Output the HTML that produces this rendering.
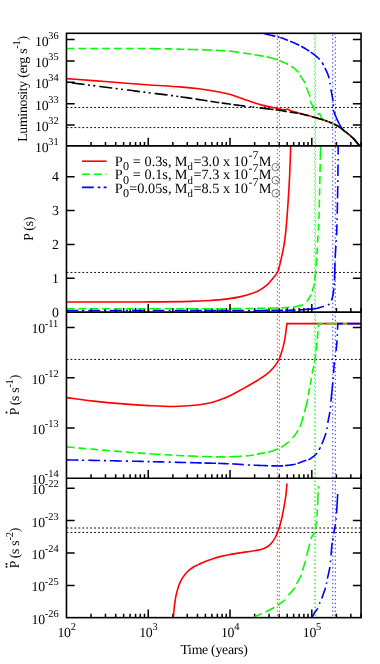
<!DOCTYPE html>
<html><head><meta charset="utf-8"><title>plot</title>
<style>html,body{margin:0;padding:0;background:#fff}svg{display:block;will-change:transform}</style></head>
<body>
<svg width="380" height="664" viewBox="0 0 380 664" font-family="'Liberation Serif', serif" fill="#000" text-rendering="geometricPrecision">
<rect width="380" height="664" fill="#fff"/>
<defs>
<clipPath id="c1"><rect x="66.45" y="33.3" width="294.6" height="112.6"/></clipPath>
<clipPath id="c2"><rect x="66.45" y="145.9" width="294.6" height="166.2"/></clipPath>
<clipPath id="c3"><rect x="66.45" y="312.1" width="294.6" height="166.1"/></clipPath>
<clipPath id="c4"><rect x="66.45" y="478.2" width="294.6" height="139.45"/></clipPath>
</defs>
<path d="M91.07 145.9L91.07 141.9M105.47 145.9L105.47 141.9M115.69 145.9L115.69 141.9M123.62 145.9L123.62 141.9M130.09 145.9L130.09 141.9M135.57 145.9L135.57 141.9M140.31 145.9L140.31 141.9M144.49 145.9L144.49 141.9M172.86 145.9L172.86 141.9M187.26 145.9L187.26 141.9M197.48 145.9L197.48 141.9M205.4 145.9L205.4 141.9M211.88 145.9L211.88 141.9M217.35 145.9L217.35 141.9M222.1 145.9L222.1 141.9M226.28 145.9L226.28 141.9M254.64 145.9L254.64 141.9M269.05 145.9L269.05 141.9M279.26 145.9L279.26 141.9M287.19 145.9L287.19 141.9M293.67 145.9L293.67 141.9M299.14 145.9L299.14 141.9M303.88 145.9L303.88 141.9M308.07 145.9L308.07 141.9M336.43 145.9L336.43 141.9M350.83 145.9L350.83 141.9M361.05 145.9L361.05 141.9M91.07 312.1L91.07 308.1M105.47 312.1L105.47 308.1M115.69 312.1L115.69 308.1M123.62 312.1L123.62 308.1M130.09 312.1L130.09 308.1M135.57 312.1L135.57 308.1M140.31 312.1L140.31 308.1M144.49 312.1L144.49 308.1M172.86 312.1L172.86 308.1M187.26 312.1L187.26 308.1M197.48 312.1L197.48 308.1M205.4 312.1L205.4 308.1M211.88 312.1L211.88 308.1M217.35 312.1L217.35 308.1M222.1 312.1L222.1 308.1M226.28 312.1L226.28 308.1M254.64 312.1L254.64 308.1M269.05 312.1L269.05 308.1M279.26 312.1L279.26 308.1M287.19 312.1L287.19 308.1M293.67 312.1L293.67 308.1M299.14 312.1L299.14 308.1M303.88 312.1L303.88 308.1M308.07 312.1L308.07 308.1M336.43 312.1L336.43 308.1M350.83 312.1L350.83 308.1M361.05 312.1L361.05 308.1M91.07 478.2L91.07 474.2M105.47 478.2L105.47 474.2M115.69 478.2L115.69 474.2M123.62 478.2L123.62 474.2M130.09 478.2L130.09 474.2M135.57 478.2L135.57 474.2M140.31 478.2L140.31 474.2M144.49 478.2L144.49 474.2M172.86 478.2L172.86 474.2M187.26 478.2L187.26 474.2M197.48 478.2L197.48 474.2M205.4 478.2L205.4 474.2M211.88 478.2L211.88 474.2M217.35 478.2L217.35 474.2M222.1 478.2L222.1 474.2M226.28 478.2L226.28 474.2M254.64 478.2L254.64 474.2M269.05 478.2L269.05 474.2M279.26 478.2L279.26 474.2M287.19 478.2L287.19 474.2M293.67 478.2L293.67 474.2M299.14 478.2L299.14 474.2M303.88 478.2L303.88 474.2M308.07 478.2L308.07 474.2M336.43 478.2L336.43 474.2M350.83 478.2L350.83 474.2M361.05 478.2L361.05 474.2M91.07 617.65L91.07 613.65M105.47 617.65L105.47 613.65M115.69 617.65L115.69 613.65M123.62 617.65L123.62 613.65M130.09 617.65L130.09 613.65M135.57 617.65L135.57 613.65M140.31 617.65L140.31 613.65M144.49 617.65L144.49 613.65M172.86 617.65L172.86 613.65M187.26 617.65L187.26 613.65M197.48 617.65L197.48 613.65M205.4 617.65L205.4 613.65M211.88 617.65L211.88 613.65M217.35 617.65L217.35 613.65M222.1 617.65L222.1 613.65M226.28 617.65L226.28 613.65M254.64 617.65L254.64 613.65M269.05 617.65L269.05 613.65M279.26 617.65L279.26 613.65M287.19 617.65L287.19 613.65M293.67 617.65L293.67 613.65M299.14 617.65L299.14 613.65M303.88 617.65L303.88 613.65M308.07 617.65L308.07 613.65M336.43 617.65L336.43 613.65M350.83 617.65L350.83 613.65M361.05 617.65L361.05 613.65M66.45 39.55L74.65 39.55M361.05 39.55L352.85 39.55M66.45 60.91L74.65 60.91M361.05 60.91L352.85 60.91M66.45 82.27L74.65 82.27M361.05 82.27L352.85 82.27M66.45 103.63L74.65 103.63M361.05 103.63L352.85 103.63M66.45 124.99L74.65 124.99M361.05 124.99L352.85 124.99M66.45 278.28L74.65 278.28M361.05 278.28L352.85 278.28M66.45 244.41L74.65 244.41M361.05 244.41L352.85 244.41M66.45 210.54L74.65 210.54M361.05 210.54L352.85 210.54M66.45 176.67L74.65 176.67M361.05 176.67L352.85 176.67M66.45 327.45L74.65 327.45M361.05 327.45L352.85 327.45M66.45 377.72L74.65 377.72M361.05 377.72L352.85 377.72M66.45 428L74.65 428M361.05 428L352.85 428M66.45 488.15L74.65 488.15M361.05 488.15L352.85 488.15M66.45 520.58L74.65 520.58M361.05 520.58L352.85 520.58M66.45 553.01L74.65 553.01M361.05 553.01L352.85 553.01M66.45 585.44L74.65 585.44M361.05 585.44L352.85 585.44" stroke="#000" stroke-width="1.5" fill="none"/>
<line x1="66.45" x2="361.05" y1="107.45" y2="107.45" stroke="#000" stroke-width="0.95" stroke-dasharray="1.9 2.05" stroke-dashoffset="-0.05"/>
<line x1="66.45" x2="361.05" y1="127.6" y2="127.6" stroke="#000" stroke-width="0.95" stroke-dasharray="1.9 2.05" stroke-dashoffset="-0.05"/>
<line x1="66.45" x2="361.05" y1="272.45" y2="272.45" stroke="#000" stroke-width="0.95" stroke-dasharray="1.9 2.05" stroke-dashoffset="-0.05"/>
<line x1="66.45" x2="361.05" y1="359.45" y2="359.45" stroke="#000" stroke-width="0.95" stroke-dasharray="1.9 2.05" stroke-dashoffset="-0.05"/>
<line x1="66.45" x2="361.05" y1="528" y2="528" stroke="#000" stroke-width="0.95" stroke-dasharray="1.9 2.05" stroke-dashoffset="-0.05"/>
<line x1="66.45" x2="361.05" y1="532.45" y2="532.45" stroke="#000" stroke-width="0.95" stroke-dasharray="1.9 2.05" stroke-dashoffset="-0.05"/>
<line x1="277.35" x2="277.35" y1="33.3" y2="617.65" stroke="#ff0000" stroke-width="0.8" stroke-dasharray="1.4 2.545" stroke-dashoffset="2.705"/>
<line x1="279.4" x2="279.4" y1="33.3" y2="617.65" stroke="#ff0000" stroke-width="0.8" stroke-dasharray="1.4 2.53" stroke-dashoffset="0.37"/>
<line x1="314.3" x2="314.3" y1="33.3" y2="617.65" stroke="#00ff00" stroke-width="0.8" stroke-dasharray="1.4 2.545" stroke-dashoffset="2.705"/>
<line x1="315.55" x2="315.55" y1="33.3" y2="617.65" stroke="#00ff00" stroke-width="0.8" stroke-dasharray="1.4 2.53" stroke-dashoffset="0.37"/>
<line x1="332.8" x2="332.8" y1="33.3" y2="617.65" stroke="#0000ff" stroke-width="0.8" stroke-dasharray="1.4 2.545" stroke-dashoffset="2.705"/>
<line x1="335.3" x2="335.3" y1="33.3" y2="617.65" stroke="#0000ff" stroke-width="0.8" stroke-dasharray="1.4 2.53" stroke-dashoffset="0.37"/>
<path d="M66.45 78.65 C75.3 79.3 83.88 79.9 93 80.6 C102.7 81.34 113.26 82.25 123 83 C132.24 83.71 140.76 84.37 150 85 C159.73 85.67 171.16 86.18 180 86.9 C187.03 87.48 192.6 88 198.9 88.8 C205.24 89.6 212.23 90.64 217.9 91.7 C222.55 92.57 226.33 93.32 230.5 94.5 C234.76 95.71 238.98 97.43 243.2 98.9 C247.41 100.36 252.17 102.14 255.8 103.3 C258.52 104.17 260.6 104.81 263 105.4 C265.34 105.97 267.6 106.29 270 106.8 C272.56 107.35 275.48 108.07 277.9 108.6 C279.95 109.05 282.14 109.68 283.6 109.8 C284.5 109.87 285.13 109.84 285.8 109.7 C286.39 109.58 286.89 109.09 287.4 109.1 C287.88 109.11 288.32 109.46 288.8 109.7 C289.35 109.97 289.78 110.34 290.5 110.65 C291.62 111.13 293.46 111.55 295 112 C296.62 112.47 297.93 112.82 300 113.4 C303.39 114.34 309.15 115.9 313.4 117.1 C317.28 118.19 321.14 119.16 324.5 120.3 C327.38 121.28 329.94 122.3 332.4 123.4 C334.64 124.41 336.72 125.36 338.7 126.6 C340.66 127.83 342.51 129.5 344.2 130.8 C345.64 131.91 346.74 132.67 348.2 133.9 C350.09 135.5 352.67 137.77 354.5 139.7 C356.11 141.4 357.57 143.46 358.7 144.8 C359.45 145.69 359.97 146.27 360.6 147" fill="none" stroke="#ff0000" stroke-width="1.6" clip-path="url(#c1)"/>
<path d="M66.45 48.5 L70.81 48.5 L74.5 48.5 M78.4 48.5 L79.57 48.5 L83.96 48.49 L86.3 48.49 M90.3 48.49 L92.71 48.49 L97.07 48.49 L98.2 48.49 M102.1 48.49 L105.72 48.5 L110 48.5 M113.9 48.5 L114.09 48.5 L118.18 48.5 L121.8 48.5 M125.7 48.5 L126.35 48.5 L130.4 48.51 L133.6 48.51 M137.6 48.52 L138.4 48.52 L142.33 48.54 L145.5 48.56 M149.3 48.59 L150 48.6 L153.31 48.64 L156.56 48.68 L159.75 48.73 L160.7 48.75 M164.7 48.82 L166.03 48.84 L169.14 48.91 L172.24 48.98 L172.3 48.98 M176.3 49.07 L178.46 49.12 L181.6 49.2 L184.2 49.27 M187.7 49.36 L188.05 49.36 L191.34 49.45 L194.63 49.54 L197.91 49.64 L198.2 49.65 M202.05 49.77 L204.32 49.84 L207.4 49.95 L210.37 50.07 L212.3 50.16 M216 50.33 L217.37 50.4 L219.39 50.5 L221.35 50.61 L223.27 50.71 L225.14 50.83 L225.4 50.85 M228.9 51.11 L230.44 51.24 L232.1 51.4 L233.34 51.54 L234.54 51.69 L235.71 51.84 L236.85 52.01 L237.96 52.18 L239.04 52.35 L239.3 52.39 M243.2 53 L244.04 53.12 L244.84 53.24 L245.61 53.36 L246.37 53.47 L247.12 53.58 L247.88 53.7 L248.64 53.81 L249.43 53.94 L250.24 54.06 L251.1 54.2 M254.4 54.73 L254.75 54.79 L256.06 55 L257.39 55.22 L258.71 55.44 L260.01 55.66 L261.28 55.88 L262.48 56.09 L263.6 56.3 M266.5 56.85 L266.63 56.87 L267.34 57.01 L268.03 57.15 L268.72 57.3 L269.4 57.46 L270.1 57.62 L270.8 57.8 L271.51 57.99 L272.23 58.19 L272.94 58.4 L273.65 58.62 L274.37 58.84 L275.07 59.07 L275.77 59.3 L276.46 59.53 L277.14 59.77 L277.8 60 M280.1 60.85 L280.12 60.85 L280.68 61.07 L281.24 61.29 L281.78 61.51 L282.33 61.74 L282.87 61.97 L283.4 62.2 L283.89 62.42 L284.39 62.65 L284.88 62.88 L285.36 63.11 L285.84 63.35 L286.31 63.58 L286.78 63.81 L287.23 64.05 L287.67 64.28 L288.1 64.5 M291.3 66.3 L291.67 66.54 L292.04 66.78 L292.41 67.03 L292.79 67.29 L293.16 67.56 L293.54 67.83 L293.91 68.11 L294.28 68.4 L294.64 68.7 L295 69 L295.38 69.33 L295.76 69.67 L296.15 70.03 L296.53 70.39 L296.91 70.76 L297.28 71.13 L297.63 71.5 L297.96 71.87 L298.27 72.24 L298.55 72.6 M300.1 75.4 L300.33 75.77 L300.57 76.16 L300.82 76.56 L301.08 76.96 L301.35 77.36 L301.62 77.77 L301.89 78.18 L302.17 78.59 L302.44 79 L302.7 79.4 L302.97 79.79 L303.24 80.18 L303.52 80.57 L303.81 80.95 L304.09 81.33 L304.36 81.72 L304.63 82.11 L304.87 82.5 L305.1 82.9 L305.3 83.3 M306.4 87.2 L306.56 87.66 L306.72 88.13 L306.9 88.61 L307.08 89.09 L307.26 89.58 L307.45 90.06 L307.64 90.55 L307.83 91.04 L308.02 91.52 L308.2 92 L308.39 92.47 L308.58 92.95 L308.79 93.42 L308.99 93.9 L309.2 94.37 L309.39 94.84 L309.57 95.31 L309.74 95.78 L309.88 96.24 L310 96.7 M310.3 100.7 L310.44 101.17 L310.62 101.64 L310.82 102.12 L311.04 102.6 L311.28 103.08 L311.53 103.56 L311.79 104.04 L312.04 104.53 L312.28 105.01 L312.5 105.5 L312.72 106 L312.94 106.51 L313.16 107.03 L313.38 107.56 L313.6 108.08 L313.82 108.6 L314.03 109.1 L314.23 109.59 L314.42 110.06 L314.6 110.5 M317.24 114.33 L317.36 114.32 L317.48 114.31 L317.6 114.28 L317.72 114.25 L317.84 114.21 L317.96 114.18 L318.08 114.14 L318.2 114.1 L318.31 114.06 L318.43 113.99 L318.54 113.92 L318.66 113.85 L318.77 113.77 L318.88 113.7 L318.99 113.64 L319.1 113.6 L319.2 113.59 L319.3 113.6 L319.43 113.66 L319.55 113.77 L319.66 113.9 L319.77 114.07 L319.88 114.26 L319.99 114.47 L320.09 114.68 L320.19 114.9 L320.3 115.1 L320.4 115.3 L320.52 115.52 L320.63 115.74 L320.74 115.98 L320.84 116.22 L320.95 116.46 L321.06 116.71 L321.17 116.95 L321.27 117.18 L321.39 117.39 L321.5 117.6 L321.6 117.76 L321.69 117.91 L321.79 118.05 L321.89 118.19 L321.99 118.33 L322.1 118.46 L322.2 118.59 L322.3 118.73 L322.4 118.86 L322.5 119" fill="none" stroke="#00ff00" stroke-width="1.6" clip-path="url(#c1)"/>
<path d="M324.5 120.3 C327.13 121.33 329.94 122.3 332.4 123.4 C334.64 124.41 336.72 125.36 338.7 126.6 C340.66 127.83 342.51 129.5 344.2 130.8 C345.64 131.91 346.74 132.67 348.2 133.9 C350.09 135.5 352.67 137.77 354.5 139.7 C356.11 141.4 357.57 143.46 358.7 144.8 C359.45 145.69 359.97 146.27 360.6 147" fill="none" stroke="#00ff00" stroke-width="1.6" stroke-dasharray="7.9 3.95" stroke-dashoffset="4" clip-path="url(#c1)"/>
<path d="M264.2 33.57 L264.3 33.6 L265.34 33.87 L266.41 34.14 L267.5 34.4 L268.61 34.67 L269.72 34.92 L270.81 35.17 L271.88 35.41 L272.9 35.65 L273.88 35.88 L274.8 36.1 L275.3 36.22 M277.6 36.76 L277.61 36.76 L278.13 36.89 L278.65 37.02 L279.18 37.17 L279.4 37.23 M280.3 37.5 L281.01 37.73 L281.75 37.99 L282.49 38.26 L283.25 38.55 L284.02 38.85 L284.79 39.16 L285.57 39.47 L286.35 39.78 L287.13 40.09 L287.9 40.4 M290 41.23 L290.37 41.37 L291.21 41.71 L292.05 42.04 L292.88 42.38 L293.7 42.71 L294.49 43.04 L295.26 43.37 L296 43.7 L296.58 43.96 L297.12 44.21 L297.65 44.45 L298.16 44.7 L298.67 44.94 L299.17 45.19 L299.2 45.2 M301.3 46.3 L302.06 46.72 L302.89 47.2 L303.76 47.71 L304.66 48.24 L305.55 48.78 L306.42 49.31 L307.25 49.82 L308 50.29 L308.66 50.7 L309.2 51.05 M310.7 52.1 L311.05 52.35 L311.45 52.63 L311.88 52.93 L312.34 53.26 L312.81 53.6 L313.3 53.95 L313.79 54.31 L314.27 54.67 L314.75 55.04 L315.2 55.4 L315.66 55.78 L316.13 56.17 L316.6 56.57 L317.07 56.97 L317.54 57.38 L318 57.8 L318.44 58.22 L318.88 58.64 L319.3 59.07 L319.7 59.5 M322 62.46 L322.25 62.84 L322.53 63.27 L322.8 63.7 L323.04 64.11 L323.27 64.52 L323.49 64.93 L323.6 65.16 M324.9 67.9 L325.14 68.39 L325.38 68.88 L325.63 69.38 L325.88 69.89 L326.13 70.4 L326.37 70.92 L326.61 71.43 L326.85 71.96 L327.08 72.48 L327.3 73 L327.52 73.53 L327.73 74.06 L327.94 74.6 L328.14 75.14 L328.34 75.68 L328.54 76.23 L328.72 76.77 L328.89 77.31 L329.05 77.86 L329.2 78.4 M329.98 82.8 L330.02 83.07 L330.1 83.6 L330.18 84.16 L330.22 84.4 M330.9 89.3 L331 89.87 L331.1 90.44 L331.21 91.01 L331.32 91.57 L331.44 92.14 L331.56 92.71 L331.67 93.28 L331.78 93.85 L331.89 94.42 L332 95 L332.11 95.61 L332.22 96.23 L332.34 96.85 L332.45 97.48 L332.56 98.11 L332.67 98.74 L332.77 99.36 L332.86 99.96 L332.93 100.54 L333 101.1 M333.16 104.3 L333.18 104.69 L333.2 105.1 L333.22 105.56 L333.23 105.9 M333.5 109.9 L333.62 110.42 L333.76 110.94 L333.92 111.46 L334.09 111.98 L334.28 112.5 L334.48 113.02 L334.69 113.54 L334.89 114.06 L335.1 114.58 L335.3 115.1 L335.5 115.63 L335.71 116.17 L335.92 116.7 L336.14 117.24 L336.35 117.77 L336.58 118.31 L336.8 118.84 L337.03 119.36 L337.26 119.88 L337.5 120.4 L337.74 120.9 L337.98 121.4 L338.23 121.9 L338.48 122.4 L338.74 122.9 L339 123.38 L339.25 123.86 L339.51 124.32 L339.76 124.77 L340 125.2 L340.19 125.53 L340.38 125.86 L340.56 126.17 L340.75 126.48 L340.93 126.77 L341.11 127.06 L341.3 127.35 L341.49 127.64 L341.69 127.92 L341.9 128.2 L342.11 128.47 L342.33 128.74 L342.56 129.01 L342.79 129.27 L343.02 129.52 L343.26 129.78 L343.5 130.03 L343.73 130.29 L343.97 130.54 L344.2 130.8" fill="none" stroke="#0000ff" stroke-width="1.6" clip-path="url(#c1)"/>
<path d="M344.2 130.8 C345.53 131.83 346.74 132.67 348.2 133.9 C350.09 135.5 352.67 137.77 354.5 139.7 C356.11 141.4 357.57 143.46 358.7 144.8 C359.45 145.69 359.97 146.27 360.6 147" fill="none" stroke="#0000ff" stroke-width="1.6" stroke-dasharray="10.5 3.7 1.7 3.5" stroke-dashoffset="8" clip-path="url(#c1)"/>
<path d="M66.45 82.2 L69.79 82.63 L73.11 83.05 L76.42 83.48 L79.73 83.9 L83.04 84.33 L86.37 84.75 L89.72 85.18 L93.1 85.62 L96.53 86.06 L100 86.5 L103.86 86.99 L107.77 87.49 L111.74 88 L115.75 88.51 L119.78 89.02 L123.83 89.54 L127.89 90.06 L131.94 90.57 L135.98 91.09 L140 91.6 L144.02 92.11 L148.08 92.62 L152.15 93.12 L156.23 93.63 L160.3 94.13 L164.34 94.64 L168.35 95.15 L172.31 95.66 L176.19 96.18 L179 96.56" fill="none" stroke="#000" stroke-width="1.6" stroke-dasharray="13 3.5 2 3.3 2 4.1" stroke-dashoffset="22.65" clip-path="url(#c1)"/>
<path d="M180.5 96.77 L183.31 97.17 L186.56 97.65 L189.76 98.13 L192.4 98.54 M195.5 99.03 L196.03 99.11 L199.14 99.6 L202.24 100.08 L205.34 100.56 L207.4 100.87 M210.5 101.34 L211.6 101.5 L214.77 101.96 L217.97 102.42 L219.2 102.6 M221.6 102.94 L224.41 103.34 L227.62 103.79 L230.81 104.24 L231.1 104.28 M233.5 104.61 L233.98 104.67 L237.11 105.1 L240.18 105.51 L243.2 105.9 L245.4 106.18 M249.8 106.72 L251.27 106.89 L251.4 106.91 M252.6 107.05 L253.95 107.21 L254.2 107.24 M259.6 107.86 L261.64 108.1 L264.02 108.37 L266.28 108.64 L268.4 108.9 L269.74 109.07 L271.01 109.22 L272.22 109.37 L273.38 109.51 L273.4 109.51 M275.6 109.79 L276.69 109.93 L277.77 110.08 L278.87 110.23 L280 110.4 L281.12 110.57 L282.24 110.76 L283.36 110.95 L284.48 111.15 L285.59 111.35 L286.69 111.55 L286.8 111.57 M289.7 112.09 L289.95 112.13 L291 112.3 L291.93 112.44 L292.83 112.56 L293.71 112.68 L294.58 112.78 L295.45 112.89 L296.32 113 L297.21 113.12 L297.6 113.18 M300 113.6 L301.24 113.87 L302.54 114.17 L303.87 114.5 L305.24 114.85 L306.62 115.22 L308.01 115.6 L308.7 115.79 M311.9 116.68 L312.1 116.74 L313.4 117.1 L314.56 117.42 L315.72 117.73 L316.87 118.05 L318.02 118.36 L319.14 118.67 L320.26 118.99 L321.35 119.31 L322.43 119.63 L323.48 119.96 L323.7 120.04 M324.9 120.44 L325.36 120.59 L326.19 120.89 L327.01 121.19 L327.5 121.38 M328.8 121.88 L329.39 122.11 L330.15 122.43 L330.91 122.75 L331.66 123.07 L332.1 123.27 M334.1 124.17 L334.38 124.3 L335.02 124.6 L335.65 124.91 L336.28 125.23 L336.89 125.55 L337.5 125.89 L338.1 126.24 L338.7 126.6 L339.28 126.98 L339.86 127.38 L340.43 127.8 L341 128.24 L341.55 128.67 L342.1 129.12 L342.64 129.55 L343.17 129.98 L343.69 130.4 L344.2 130.8 L344.6 131.11 M345.9 132.08 L346.19 132.3 L346.58 132.6 L346.97 132.9 L347.36 133.21 L347.77 133.54 L348.2 133.9 L348.6 134.24 M350.5 135.89 L350.71 136.08 L351.37 136.67 L352.04 137.28 L352.69 137.9 L353.32 138.51 L353.93 139.11 L354.5 139.7 L354.98 140.22 L355.45 140.75 L355.9 141.3 L356.35 141.84 L356.78 142.38 L357.2 142.91 L357.6 143.43 L357.98 143.92 L358.35 144.38 L358.7 144.8 L358.92 145.06 L359.13 145.3 L359.32 145.53 L359.51 145.75 L359.69 145.96 L359.87 146.17 L360.05 146.37 L360.23 146.58 L360.41 146.78 L360.6 147" fill="none" stroke="#000" stroke-width="1.6" clip-path="url(#c1)"/>
<path d="M66.45 302 C80.97 302 95.79 302.02 110 302 C123.62 301.98 136.71 302 150 301.9 C163.21 301.8 178.48 301.71 189.5 301.4 C197.45 301.18 203.59 300.92 210 300.5 C215.67 300.13 220.7 299.78 226 299.1 C231.3 298.42 236.58 297.7 241.8 296.4 C247.12 295.08 253.12 293.37 257.6 291.2 C261.31 289.4 264.39 287.26 267.1 284.9 C269.58 282.75 271.56 280.09 273.4 277.8 C275 275.81 276.47 274.32 277.6 272 C278.97 269.19 279.7 265.07 280.5 261.9 C281.2 259.12 281.62 256.79 282.2 254 C282.85 250.87 283.61 247.67 284.2 244 C284.91 239.58 285.49 234.29 286 229.3 C286.53 224.16 286.89 219.13 287.3 213.6 C287.76 207.43 288.2 200.53 288.6 194 C289 187.47 289.37 181.54 289.7 174.4 C290.09 165.81 290.46 152.56 290.7 146 C290.83 142.52 290.9 140.67 291 138" fill="none" stroke="#ff0000" stroke-width="1.6" clip-path="url(#c2)"/>
<path d="M66.45 308.8 L74.5 308.8 M78.4 308.8 L83.19 308.8 L86.3 308.8 M90.3 308.8 L91.57 308.8 L98.2 308.8 M102.1 308.81 L108.34 308.81 L110 308.81 M113.9 308.81 L116.71 308.81 L121.8 308.81 M125.7 308.81 L133.41 308.81 L133.6 308.81 M137.6 308.81 L141.72 308.8 L145.5 308.8 M149.3 308.8 L150 308.8 L158.19 308.8 L160.7 308.8 M164.7 308.8 L166.55 308.8 L172.3 308.8 M176.3 308.81 L183.44 308.81 L184.2 308.81 M187.7 308.81 L191.82 308.81 L198.2 308.81 M202.05 308.81 L208.07 308.8 L212.3 308.79 M216 308.78 L223.12 308.75 L225.4 308.73 M229.3 308.7 L230 308.7 L234.62 308.66 L239.1 308.62 L241.8 308.59 M245.7 308.54 L247.65 308.52 L251.72 308.47 L253.6 308.44 M256.9 308.38 L259.44 308.34 L263.1 308.27 L265.5 308.21 M268 308.15 L270 308.1 L272.33 308.04 L274.63 307.97 L276.87 307.9 L278.5 307.85 M281.3 307.75 L283.17 307.68 L285.08 307.59 L286.86 307.5 L288.51 307.41 L289.2 307.36 M293 307.06 L293.19 307.04 L293.74 306.98 L294.28 306.9 L294.83 306.82 L295.4 306.72 L296 306.6 L296.72 306.44 L297.47 306.26 L298.24 306.07 L299.02 305.85 L299.8 305.62 L300.56 305.39 L301.3 305.14 L301.99 304.9 L302.63 304.65 L303.2 304.4 M306.83 301.6 L307.27 300.99 L307.75 300.27 L308.22 299.53 L308.67 298.77 L309.11 298.03 L309.51 297.32 L309.88 296.67 L310.2 296.1 L310.37 295.79 L310.52 295.52 L310.66 295.26 L310.79 295.02 L310.91 294.78 L311.02 294.54 L311.14 294.29 L311.18 294.2 M312.12 291.6 L312.23 291.26 L312.49 290.42 L312.74 289.56 L312.99 288.69 L313.23 287.83 L313.44 287.02 L313.64 286.27 L313.8 285.6 L313.89 285.22 L313.96 284.88 L314.03 284.56 L314.09 284.26 L314.14 283.97 L314.19 283.7 M314.65 280.5 L314.75 279.75 L314.87 278.75 L314.99 277.73 L315.11 276.7 L315.22 275.69 L315.33 274.73 L315.42 273.84 L315.5 273.05 L315.54 272.6 L315.58 272.19 L315.61 271.8 L315.63 271.44 L315.66 271.09 L315.68 270.74 L315.7 270.5 M316.05 266.3 L316.14 265.32 L316.23 264.24 L316.33 263.13 L316.43 261.99 L316.53 260.86 L316.62 259.72 L316.7 258.6 L316.75 257.9 M316.95 254.4 L316.99 253.66 L317.05 252.4 L317.12 251.1 L317.18 249.77 L317.25 248.4 L317.29 247.5 M317.56 242.7 L317.66 241.15 L317.8 238.82 L317.95 236.42 L318.01 235.4 M318.31 230.6 L318.41 228.86 L318.55 226.26 L318.67 223.8 M318.88 219.05 L318.92 217.92 L319.03 214.78 L319.13 211.7 M319.24 207.5 L319.3 205.06 L319.38 201.72 L319.43 199.6 M319.52 195.6 L319.54 194.93 L319.62 191.48 L319.7 188.2 M319.79 184 L319.8 183.86 L319.9 179.4 L319.97 176.1 M320.06 171.9 L320.1 169.98 L320.2 165.26 L320.22 164 M320.31 159.8 L320.38 156.34 L320.46 152.37 L320.54 148.89 L320.6 146 L320.62 144.95 L320.65 144 L320.67 143.14 L320.69 142.35 L320.71 141.61 L320.73 140.9 L320.74 140.2 L320.75 140" fill="none" stroke="#00ff00" stroke-width="1.6" clip-path="url(#c2)"/>
<path d="M66.45 310.5 L74.77 310.5 L78.4 310.5 M81.9 310.5 L83.04 310.5 L84.2 310.5 M88.3 310.5 L91.28 310.5 L99.51 310.5 L100.2 310.5 M103.9 310.5 L106 310.5 M109.75 310.5 L116.04 310.5 L121.8 310.5 M125.8 310.5 L128 310.5 M132.05 310.5 L132.81 310.5 L141.34 310.5 L143.9 310.5 M147.6 310.5 L149.5 310.5 M152.8 310.5 L159.79 310.5 L164.4 310.51 M168.7 310.51 L169.99 310.52 L170.6 310.52 M174.7 310.52 L180.44 310.53 L186.1 310.54 M190.1 310.55 L191.03 310.55 L201.63 310.56 L201.8 310.56 M204.4 310.57 L212.09 310.57 L216 310.57 M218.2 310.57 L222.29 310.57 L228.8 310.57 M232.3 310.56 L241.38 310.54 L243.8 310.53 M247.9 310.51 L250 310.5 L250.1 310.5 M253.6 310.48 L255.81 310.47 L261.59 310.43 L267.29 310.4 L268.1 310.4 M271.3 310.37 L272.84 310.36 L278.17 310.32 L283.1 310.27 M285.1 310.24 L287.93 310.2 L292.22 310.12 L295.6 310.03 M299.3 309.9 L300.53 309.84 L301.64 309.77 L302.66 309.7 L303.6 309.63 L304.48 309.55 L305.32 309.48 L306.12 309.4 L306.91 309.33 L307.7 309.26 L308.5 309.2 L309.14 309.16 L309.74 309.13 L310.32 309.11 L310.89 309.1 L311.44 309.08 L312 309.05 L312.57 309.02 L313.15 308.96 L313.76 308.89 L314.4 308.8 L315.31 308.63 L316.29 308.43 L317.32 308.19 L318.39 307.92 L319.46 307.63 L320.52 307.33 L321.56 307.04 L322.55 306.74 L323.47 306.46 L323.9 306.33 M327.8 305.12 L327.86 305.09 L328.24 304.87 L328.6 304.6 L329 304.24 L329.38 303.83 L329.4 303.81 M331.43 300.3 L331.55 300.04 L331.8 299.4 L332.13 298.45 L332.42 297.37 L332.69 296.21 L332.92 294.99 L333.14 293.75 L333.33 292.5 L333.5 291.3 L333.65 290.16 L333.78 289.11 L333.87 288.4 M334.15 285 L334.15 284.97 L334.17 284.59 L334.2 284.2 L334.23 283.82 L334.26 283.46 L334.27 283.4 M334.49 280.5 L334.5 280.3 L334.55 279.22 L334.59 277.96 L334.63 276.58 L334.67 275.09 L334.7 273.53 L334.74 271.93 L334.78 270.33 L334.81 268.75 L334.85 267.23 L334.9 265.8 L334.94 264.58 L334.99 263.41 L335.02 262.6 M335.21 257.9 L335.22 257.72 L335.27 256.53 L335.33 255.29 L335.4 254 L335.5 252.28 L335.61 250.52 L335.73 248.71 L335.86 246.85 L335.92 245.9 M336.21 241.7 L336.25 240.98 L336.31 240.1 M336.56 235.4 L336.6 234.6 L336.72 231.52 L336.84 228.23 L336.94 224.78 L336.96 224.3 M337.07 219.9 L337.11 218.2 M337.21 213.8 L337.29 210.28 L337.36 206.72 L337.43 203.28 L337.45 202.2 M337.54 198.2 L337.55 197.34 L337.6 194.77 L337.65 192.26 L337.69 189.79 L337.73 187.35 L337.75 186.1 M337.81 181.9 L337.83 180.2 M337.89 176 L337.9 175 L337.94 172.13 L337.97 169.11 L338 165.99 L338.02 164.4 M338.06 160.5 L338.07 159.7 L338.08 158.9 M338.12 154.5 L338.13 153.7 L338.15 150.97 L338.18 148.48 L338.2 146.3 L338.21 145.27 L338.22 144.32 L338.23 143.44 L338.24 142.62 L338.25 141.84 L338.26 141.08 L338.27 140.33 L338.28 140" fill="none" stroke="#0000ff" stroke-width="1.6" clip-path="url(#c2)"/>
<path d="M66.45 397.6 C75.53 398.77 84.43 400.06 93.7 401.1 C103.33 402.18 113.75 403.13 123.2 403.9 C131.93 404.61 139.99 405.17 148.4 405.6 C156.82 406.03 165.66 406.59 173.7 406.5 C181.03 406.42 188.1 406.03 194.7 405.3 C200.66 404.64 206.24 403.85 211.6 402.5 C216.65 401.23 221.17 399.66 226 397.6 C231.23 395.37 236.57 392.28 241.8 389.4 C247.1 386.48 253.04 383.04 257.6 380.2 C261.2 377.96 264.35 376.13 267.1 373.9 C269.52 371.94 271.72 369.61 273.4 367.7 C274.68 366.24 275.53 365.03 276.5 363.6 C277.5 362.13 278.5 360.71 279.3 359 C280.2 357.09 280.83 354.72 281.5 352.6 C282.16 350.52 282.74 348.7 283.3 346.4 C283.99 343.58 284.68 340.07 285.2 336.9 C285.71 333.77 286.09 329.96 286.4 327.5 C286.6 325.92 286.73 324.9 286.9 323.6 L361.05 323.6" fill="none" stroke="#ff0000" stroke-width="1.6" stroke-linejoin="miter" clip-path="url(#c3)"/>
<path d="M66.45 446.9 L69.99 447.21 L73.51 447.52 L74.5 447.61 M78.4 447.95 L80.52 448.14 L84.03 448.45 L86.3 448.65 M90.3 449 L91.11 449.07 L94.69 449.38 L98.2 449.68 M102.1 450.01 L106.07 450.34 L110 450.68 M113.9 451 L114.39 451.05 L118.62 451.4 L121.8 451.67 M125.7 451.99 L127.15 452.1 L131.43 452.45 L133.6 452.61 M137.6 452.92 L139.96 453.1 L144.2 453.4 L145.5 453.49 M149.3 453.75 L152.75 453.98 L157.08 454.26 L160.7 454.49 M164.7 454.74 L165.75 454.8 L170.04 455.05 L172.3 455.18 M176.3 455.4 L178.39 455.51 L182.41 455.72 L184.2 455.8 M187.7 455.96 L189.43 456.04 L192.54 456.16 L195.6 456.28 L198.2 456.37 M202.05 456.5 L204.45 456.57 L207.24 456.64 L209.94 456.7 L212.3 456.75 M216 456.82 L216.69 456.83 L218.27 456.85 L219.79 456.87 L221.24 456.89 L222.67 456.9 L224.08 456.9 L225.4 456.89 M229.3 456.82 L230 456.8 L231.91 456.73 L233.9 456.66 L235.95 456.57 L238.04 456.47 L240.15 456.35 L241.8 456.25 M245.7 455.95 L246.29 455.9 L248.2 455.71 L250 455.5 L251.35 455.31 L252.67 455.1 L253.6 454.93 M256.9 454.26 L257.65 454.1 L258.8 453.85 L259.91 453.61 L260.98 453.39 L262 453.2 L262.68 453.09 L263.31 452.99 L263.9 452.9 L264.47 452.83 L265.03 452.75 L265.5 452.69 M268 452.2 L268.97 451.94 L270.04 451.64 L271.17 451.29 L272.35 450.92 L273.53 450.52 L274.68 450.13 L275.79 449.73 L276.82 449.36 L277.73 449.01 L278.5 448.7 M281.1 447.4 L281.66 447.04 L282.3 446.61 L282.99 446.13 L283.71 445.61 L284.45 445.07 L285.19 444.52 L285.9 443.98 L286.57 443.47 L287.17 443.01 L287.7 442.6 L287.97 442.4 L288.21 442.21 L288.43 442.05 L288.64 441.89 L288.83 441.74 L288.9 441.68 M292.49 438 L292.62 437.84 L293.21 437.16 L293.78 436.48 L294.31 435.83 L294.79 435.23 L295.2 434.7 L295.42 434.41 L295.61 434.14 L295.78 433.9 L295.95 433.66 L296.1 433.43 L296.25 433.19 L296.39 432.95 L296.55 432.69 L296.72 432.41 L296.9 432.1 L297.22 431.56 L297.56 430.97 L297.93 430.34 L298.07 430.1 M299.77 426.9 L299.83 426.78 L300.18 426.04 L300.5 425.3 L300.83 424.48 L301.14 423.61 L301.45 422.71 L301.74 421.79 L302.02 420.87 L302.28 419.96 L302.54 419.08 L302.77 418.23 L302.99 417.43 L303.2 416.7 L303.31 416.3 M304.36 412.2 L304.47 411.76 L304.8 410.54 L305.17 409.17 L305.57 407.71 L305.97 406.2 L306.37 404.7 L306.75 403.24 L307.09 401.87 L307.38 400.64 L307.6 399.6 L307.68 399.13 L307.69 399.1 M308.19 395.2 L308.33 394.38 L308.63 392.76 L308.98 390.91 L309.38 388.9 L309.54 388.1 M310.17 384.9 L310.21 384.73 L310.6 382.71 L310.96 380.85 L311.27 379.22 L311.5 377.9 L311.52 377.8 M312.13 373.5 L312.18 373.2 L312.34 372.43 L312.52 371.62 L312.72 370.77 L312.92 369.9 L313.12 369.04 L313.31 368.2 L313.5 367.41 L313.66 366.67 L313.8 366 M314.4 362.7 L314.52 361.99 L314.65 361.19 L314.79 360.32 L314.94 359.4 L315.09 358.45 L315.23 357.51 L315.37 356.59 L315.5 355.71 L315.61 354.91 L315.7 354.2 M316 350.9 L316.08 350.19 L316.18 349.37 L316.29 348.49 L316.41 347.56 L316.53 346.6 L316.65 345.64 L316.77 344.71 L316.88 343.83 L316.97 343.01 L317.05 342.3 M317.3 339 L317.36 338.35 L317.43 337.63 L317.51 336.87 L317.6 336.07 L317.69 335.25 L317.78 334.41 L317.87 333.56 L317.95 332.72 L318.03 331.9 L318.1 331.1 M318.38 327.2 L318.41 326.59 L318.46 325.84 L318.5 325.1 L318.55 324.35 L318.6 323.6 M318.6 324.4 L318.6 323.6 L323 323.6 M326.9 323.6 L337.6 323.6 M342.5 323.6 L347.5 323.6" fill="none" stroke="#00ff00" stroke-width="1.6" clip-path="url(#c3)"/>
<path d="M66.45 459.9 L70.83 459.98 L75.24 460.06 L78.4 460.11 M81.9 460.18 L84.12 460.21 L84.2 460.22 M88.3 460.29 L88.55 460.29 L92.96 460.37 L97.32 460.45 L100.2 460.51 M103.9 460.58 L105.86 460.62 L106 460.62 M109.75 460.69 L110 460.7 L113.55 460.78 L116.97 460.85 L120.3 460.93 L121.8 460.96 M125.8 461.05 L126.84 461.08 L128 461.11 M132.05 461.2 L133.46 461.24 L136.89 461.32 L140.46 461.41 L143.9 461.49 M147.6 461.58 L149.31 461.62 L149.5 461.63 M152.8 461.71 L154.77 461.76 L160.48 461.9 L164.4 461.99 M168.7 462.1 L170.6 462.14 M174.7 462.25 L178.26 462.33 L184.09 462.48 L186.1 462.53 M190.1 462.64 L195.05 462.77 L200 462.9 L201.8 462.95 M204.4 463.02 L206.69 463.08 L209.87 463.16 L212.96 463.24 L215.96 463.32 L216 463.32 M218.2 463.38 L218.88 463.4 L221.74 463.49 L224.54 463.58 L227.29 463.69 L228.8 463.75 M232.3 463.91 L234.25 464.02 L236.28 464.14 L238.26 464.27 L240.21 464.4 L242.15 464.53 L243.8 464.64 M247.9 464.89 L247.99 464.9 L250 465 L250.1 465 M253.6 465.17 L254.32 465.2 L256.54 465.3 L258.77 465.4 L261 465.49 L263.2 465.57 L265.35 465.64 L267.43 465.71 L268.1 465.72 M271.3 465.8 L272.62 465.83 L273.88 465.86 L275.08 465.89 L276.26 465.91 L277.4 465.93 L278.53 465.94 L279.65 465.93 L280.78 465.91 L281.92 465.87 L283.1 465.8 M285.1 465.63 L285.75 465.57 L287.17 465.42 L288.6 465.24 L290.01 465.06 L291.36 464.86 L292.63 464.67 L293.79 464.47 L294.79 464.28 L295.6 464.1 M297.6 463.4 L298.19 463.18 L298.89 462.92 L299.68 462.63 L300.52 462.31 L301.41 461.98 L302.3 461.65 L303.18 461.32 L304.02 461.01 L304.8 460.74 L305.5 460.5 L305.92 460.37 L306.3 460.27 M308.4 459.76 L308.42 459.75 L308.8 459.59 L309.2 459.4 L309.91 458.99 L310.7 458.49 L311.54 457.91 L312.41 457.26 L313.28 456.57 L314.15 455.85 L314.98 455.12 L315.75 454.4 L316.45 453.7 L317.05 453.05 M319 449.98 L319.02 449.94 L319.24 449.5 L319.47 449.05 L319.7 448.6 L319.93 448.17 L320.14 447.74 L320.35 447.33 L320.4 447.22 M321.8 444.1 L322.19 443.18 L322.62 442.14 L323.07 441.01 L323.55 439.83 L324.02 438.61 L324.49 437.39 L324.93 436.2 L325.34 435.06 L325.7 434 L326 433.05 M326.93 429 L326.96 428.78 L327.05 428.3 L327.14 427.78 L327.21 427.3 M327.8 422.8 L327.97 421.83 L328.17 420.77 L328.39 419.64 L328.62 418.47 L328.86 417.27 L329.11 416.07 L329.34 414.91 L329.55 413.79 L329.74 412.75 L329.9 411.8 M330.42 407.6 L330.45 407.3 L330.5 406.8 L330.55 406.3 L330.57 406 M330.9 401.6 L331.04 400.11 L331.21 398.33 L331.41 396.32 L331.62 394.17 L331.85 391.95 L332.07 389.74 L332.29 387.61 L332.49 385.64 L332.66 383.91 L332.8 382.5 M333.13 379 L333.16 378.63 L333.2 378.2 L333.24 377.71 L333.27 377.4 M333.6 373 L333.67 372.06 L333.73 371.02 L333.8 369.92 L333.87 368.77 L333.94 367.6 L334.02 366.42 L334.1 365.25 L334.19 364.12 L334.29 363.05 L334.4 362.05 M335.3 356.8 L335.39 356.26 L335.5 355.5 L335.51 355.4 M336.02 351.2 L336.02 351.16 L336.2 349.5 L336.37 347.8 L336.54 346.11 L336.69 344.48 L336.83 342.93 L336.95 341.53 L337.05 340.3 M337.27 335.9 L337.28 335.61 L337.3 335.1 L337.32 334.57 L337.33 334.3 M337.5 329.8 L337.53 329.2 L337.55 328.59 L337.58 327.98 L337.61 327.35 L337.64 326.73 L337.68 326.1 L337.71 325.48 L337.74 324.85 L337.77 324.22 L337.8 323.6 M337.8 324.4 L337.8 323.6 L342.8 323.6 M347.05 323.6 L361.05 323.6" fill="none" stroke="#0000ff" stroke-width="1.6" clip-path="url(#c3)"/>
<path d="M173.3 621 C173.37 619.43 173.37 618.19 173.5 616.3 C173.69 613.4 174.02 609.03 174.5 605.3 C175 601.4 175.54 597.31 176.5 593.4 C177.47 589.47 178.62 585.28 180.3 581.8 C181.85 578.6 183.77 575.7 186 573.2 C188.16 570.79 191.01 568.52 193.4 567 C195.31 565.78 197.08 565.3 199 564.4 C201.04 563.44 203.07 562.32 205.3 561.4 C207.71 560.41 210.39 559.53 213 558.7 C215.65 557.86 218.32 557.09 221.1 556.4 C223.99 555.68 226.88 555.09 230 554.5 C233.42 553.85 236.86 553.32 240.8 552.7 C245.56 551.96 252.34 551.28 256.6 550.4 C259.55 549.79 261.88 549.24 264 548.4 C265.73 547.72 267.16 546.99 268.5 546 C269.82 545.02 270.9 543.87 272 542.5 C273.26 540.93 274.43 539.06 275.5 537 C276.73 534.63 277.82 531.85 278.8 529 C279.88 525.88 280.76 522.5 281.6 519 C282.51 515.2 283.29 510.92 284 507 C284.68 503.26 285.31 499.79 285.8 496 C286.32 491.97 286.6 487.67 287 483.5" fill="none" stroke="#ff0000" stroke-width="1.6" clip-path="url(#c4)"/>
<path d="M254.2 617.3 L254.28 617.23 L254.34 617.16 L254.41 617.1 L254.47 617.03 L254.54 616.96 L254.61 616.9 L254.69 616.83 L254.78 616.75 L254.88 616.68 L255 616.6 L255.41 616.37 L255.96 616.11 L256.61 615.82 L257.33 615.52 L258.11 615.2 L258.9 614.88 L259.7 614.57 L260.46 614.26 L261.17 613.97 L261.8 613.7 M265.5 612 L266.25 611.63 L267.09 611.2 L268.01 610.74 L268.96 610.25 L269.94 609.74 L270.91 609.23 L271.86 608.73 L272.76 608.25 L273.58 607.8 L274.3 607.4 M277.6 605.4 L278.24 604.96 L278.94 604.46 L279.69 603.92 L280.48 603.34 L281.28 602.74 L282.08 602.13 L282.86 601.51 L283.6 600.89 L284.29 600.28 L284.9 599.7 M288.4 595.3 L288.99 594.6 L289.64 593.84 L290.35 593.04 L291.08 592.22 L291.81 591.39 L292.54 590.55 L293.23 589.73 L293.87 588.94 L294.43 588.19 L294.9 587.5 M296.6 583.8 L296.99 583.04 L297.44 582.2 L297.94 581.29 L298.48 580.33 L299.02 579.35 L299.56 578.36 L300.08 577.39 L300.55 576.46 L300.97 575.59 L301.3 574.8 M302.4 570.6 L302.66 569.76 L302.96 568.81 L303.29 567.8 L303.65 566.73 L304.02 565.64 L304.38 564.55 L304.73 563.47 L305.06 562.44 L305.36 561.48 L305.6 560.6 M306.6 555.8 L306.85 554.79 L307.15 553.64 L307.48 552.4 L307.83 551.08 L308.2 549.74 L308.57 548.4 L308.92 547.09 L309.25 545.85 L309.55 544.71 L309.8 543.7 M310.8 539 L310.95 538.59 L311.11 538.19 L311.29 537.79 L311.47 537.4 L311.66 537.01 L311.86 536.63 L312.07 536.26 L312.28 535.9 L312.49 535.54 L312.7 535.2 L312.9 534.91 L313.12 534.63 L313.35 534.38 L313.58 534.13 L313.81 533.88 L314.04 533.63 L314.26 533.37 L314.46 533.1 L314.64 532.81 L314.8 532.5 M315.39 528.9 L315.43 528.49 L315.5 528 L315.6 527.39 L315.71 526.76 L315.82 526.12 L315.94 525.47 L316.06 524.81 L316.18 524.12 L316.29 523.42 L316.4 522.7 L316.51 521.96 L316.6 521.2 M317 516.5 L317.06 515.64 L317.13 514.44 L317.2 513.21 L317.26 511.95 L317.33 510.68 L317.4 509.4 M317.59 505.2 L317.63 504.21 L317.7 502.34 L317.77 500.47 L317.84 498.62 L317.9 496.83 L317.97 495.14 L318.03 493.59 L318.1 492.2 M318.32 488.7 L318.34 488.33 L318.38 487.76 L318.42 487.19 L318.46 486.61 L318.5 486" fill="none" stroke="#00ff00" stroke-width="1.6" clip-path="url(#c4)"/>
<path d="M311.8 617.6 L312.11 617.07 L312.42 616.53 L312.73 615.99 L313.04 615.45 L313.34 614.9 L313.65 614.37 L313.96 613.84 L314.27 613.31 L314.59 612.8 L314.9 612.3 L315.19 611.86 L315.49 611.43 L315.8 611.02 L316.11 610.61 L316.41 610.21 L316.71 609.8 L317 609.39 L317.29 608.98 L317.55 608.55 L317.8 608.1 M319.4 603.8 L319.51 603.5 L319.7 603 L319.89 602.54 L320.04 602.2 M321.7 598.5 L321.91 597.97 L322.11 597.44 L322.32 596.89 L322.52 596.34 L322.72 595.79 L322.92 595.23 L323.12 594.67 L323.31 594.11 L323.51 593.55 L323.7 593 L323.89 592.46 L324.08 591.91 L324.28 591.36 L324.47 590.82 L324.66 590.27 L324.84 589.73 L325.02 589.19 L325.19 588.65 L325.35 588.12 L325.5 587.6 M326.34 583.9 L326.41 583.55 L326.5 583.1 L326.59 582.65 L326.66 582.3 M327.4 578.6 L327.53 578.03 L327.66 577.44 L327.8 576.84 L327.94 576.22 L328.09 575.6 L328.24 574.98 L328.38 574.36 L328.53 573.73 L328.67 573.11 L328.8 572.5 L328.93 571.9 L329.06 571.3 L329.19 570.7 L329.32 570.1 L329.45 569.5 L329.57 568.9 L329.69 568.3 L329.8 567.7 L329.91 567.1 L329.92 567 M330.46 562.1 L330.49 561.77 L330.54 561.14 L330.6 560.5 M331.01 555.5 L331.01 555.5 L331.08 554.62 L331.15 553.75 L331.22 552.87 L331.3 552 L331.38 551.08 L331.46 550.13 L331.54 549.16 L331.63 548.19 L331.71 547.22 L331.8 546.26 L331.89 545.32 L331.99 544.41 L332.09 543.53 L332.2 542.7 M332.61 540.3 L332.69 539.9 L332.79 539.38 L332.89 538.86 L333 538.32 L333.02 538.2 M333.72 533.7 L333.74 533.61 L333.84 532.87 L333.95 532.13 L334.07 531.4 L334.18 530.69 L334.3 530 L334.41 529.39 L334.54 528.79 L334.66 528.2 L334.79 527.62 L334.92 527.05 L335.05 526.47 L335.18 525.9 L335.29 525.34 L335.4 524.77 L335.5 524.2 M336.03 519.7 L336.05 519.43 L336.1 518.9 L336.15 518.37 L336.17 518.1 M336.5 513.5 L336.56 512.66 L336.62 511.77 L336.67 510.85 L336.73 509.9 L336.8 508.93 L336.86 507.95 L336.92 506.95 L336.98 505.96 L337.04 504.97 L337.1 504 L337.16 503.01 L337.22 502.02 L337.28 501.02 L337.34 500.02 L337.4 499.02 L337.46 498.01 L337.52 497.01 L337.58 496 L337.64 495 L337.7 494" fill="none" stroke="#0000ff" stroke-width="1.6" clip-path="url(#c4)"/>
<path d="M148.24 145.9L148.24 137.7M230.02 145.9L230.02 137.7M311.81 145.9L311.81 137.7M148.24 312.1L148.24 303.9M230.02 312.1L230.02 303.9M311.81 312.1L311.81 303.9M148.24 478.2L148.24 470M230.02 478.2L230.02 470M311.81 478.2L311.81 470M148.24 617.65L148.24 609.45M230.02 617.65L230.02 609.45M311.81 617.65L311.81 609.45" stroke="#000" stroke-width="1.5" fill="none"/>
<rect x="66.45" y="33.3" width="294.6" height="584.35" fill="none" stroke="#000" stroke-width="1.6"/>
<line x1="66.45" x2="361.05" y1="145.9" y2="145.9" stroke="#000" stroke-width="1.6"/>
<line x1="66.45" x2="361.05" y1="312.1" y2="312.1" stroke="#000" stroke-width="1.6"/>
<line x1="66.45" x2="361.05" y1="478.2" y2="478.2" stroke="#000" stroke-width="1.6"/>
<text transform="translate(48.3 45.55)" text-anchor="end" font-size="13.8" letter-spacing="-0.28">10</text>
<text transform="translate(48.3 38.65) scale(0.98 1)" font-size="10.6">36</text>
<text transform="translate(48.3 66.91)" text-anchor="end" font-size="13.8" letter-spacing="-0.28">10</text>
<text transform="translate(48.3 60.01) scale(0.98 1)" font-size="10.6">35</text>
<text transform="translate(48.3 88.27)" text-anchor="end" font-size="13.8" letter-spacing="-0.28">10</text>
<text transform="translate(48.3 81.37) scale(0.98 1)" font-size="10.6">34</text>
<text transform="translate(48.3 109.63)" text-anchor="end" font-size="13.8" letter-spacing="-0.28">10</text>
<text transform="translate(48.3 102.73) scale(0.98 1)" font-size="10.6">33</text>
<text transform="translate(48.3 130.99)" text-anchor="end" font-size="13.8" letter-spacing="-0.28">10</text>
<text transform="translate(48.3 124.09) scale(0.98 1)" font-size="10.6">32</text>
<text transform="translate(48.3 152.35)" text-anchor="end" font-size="13.8" letter-spacing="-0.28">10</text>
<text transform="translate(48.3 145.45) scale(0.98 1)" font-size="10.6">31</text>
<text transform="translate(58.6 316.65)" text-anchor="end" font-size="13.8" letter-spacing="-0.28">0</text>
<text transform="translate(58.6 282.78)" text-anchor="end" font-size="13.8" letter-spacing="-0.28">1</text>
<text transform="translate(58.6 248.91)" text-anchor="end" font-size="13.8" letter-spacing="-0.28">2</text>
<text transform="translate(58.6 215.04)" text-anchor="end" font-size="13.8" letter-spacing="-0.28">3</text>
<text transform="translate(58.6 181.17)" text-anchor="end" font-size="13.8" letter-spacing="-0.28">4</text>
<text transform="translate(44.84 333.45)" text-anchor="end" font-size="13.8" letter-spacing="-0.28">10</text>
<text transform="translate(44.84 326.55) scale(0.98 1)" font-size="10.6">-11</text>
<text transform="translate(44.84 383.72)" text-anchor="end" font-size="13.8" letter-spacing="-0.28">10</text>
<text transform="translate(44.84 376.82) scale(0.98 1)" font-size="10.6">-12</text>
<text transform="translate(44.84 434)" text-anchor="end" font-size="13.8" letter-spacing="-0.28">10</text>
<text transform="translate(44.84 427.1) scale(0.98 1)" font-size="10.6">-13</text>
<text transform="translate(44.84 484.27)" text-anchor="end" font-size="13.8" letter-spacing="-0.28">10</text>
<text transform="translate(44.84 477.38) scale(0.98 1)" font-size="10.6">-14</text>
<text transform="translate(44.84 494.15)" text-anchor="end" font-size="13.8" letter-spacing="-0.28">10</text>
<text transform="translate(44.84 487.25) scale(0.98 1)" font-size="10.6">-22</text>
<text transform="translate(44.84 526.58)" text-anchor="end" font-size="13.8" letter-spacing="-0.28">10</text>
<text transform="translate(44.84 519.68) scale(0.98 1)" font-size="10.6">-23</text>
<text transform="translate(44.84 559.01)" text-anchor="end" font-size="13.8" letter-spacing="-0.28">10</text>
<text transform="translate(44.84 552.11) scale(0.98 1)" font-size="10.6">-24</text>
<text transform="translate(44.84 591.44)" text-anchor="end" font-size="13.8" letter-spacing="-0.28">10</text>
<text transform="translate(44.84 584.54) scale(0.98 1)" font-size="10.6">-25</text>
<text transform="translate(44.84 623.87)" text-anchor="end" font-size="13.8" letter-spacing="-0.28">10</text>
<text transform="translate(44.84 616.97) scale(0.98 1)" font-size="10.6">-26</text>
<text transform="translate(70.68 636.7)" text-anchor="end" font-size="13.8" letter-spacing="-0.28">10</text>
<text transform="translate(70.68 629.8) scale(0.98 1)" font-size="10.6">2</text>
<text transform="translate(152.46 636.7)" text-anchor="end" font-size="13.8" letter-spacing="-0.28">10</text>
<text transform="translate(152.46 629.8) scale(0.98 1)" font-size="10.6">3</text>
<text transform="translate(234.25 636.7)" text-anchor="end" font-size="13.8" letter-spacing="-0.28">10</text>
<text transform="translate(234.25 629.8) scale(0.98 1)" font-size="10.6">4</text>
<text transform="translate(316.03 636.7)" text-anchor="end" font-size="13.8" letter-spacing="-0.28">10</text>
<text transform="translate(316.03 629.8) scale(0.98 1)" font-size="10.6">5</text>
<text transform="translate(213.95 654.4)" text-anchor="middle" font-size="13.8" letter-spacing="-0.28">Time (years)</text>
<text transform="translate(26.8 89) rotate(-90)" text-anchor="middle" font-size="13.8" letter-spacing="-0.28"><tspan>Luminosity (erg s</tspan><tspan dy="-6.5" font-size="10.6">-1</tspan><tspan dy="6.5">​</tspan><tspan>)</tspan></text>
<text transform="translate(33.1 228.8) rotate(-90)" text-anchor="middle" font-size="13.8" letter-spacing="-0.28"><tspan>P (s)</tspan></text>
<text transform="translate(19 395.2) rotate(-90)" text-anchor="middle" font-size="13.8" letter-spacing="-0.28"><tspan>P (s s</tspan><tspan dy="-6.5" font-size="10.6">-1</tspan><tspan dy="6.5">​</tspan><tspan>)</tspan></text>
<text transform="translate(19 548.1) rotate(-90)" text-anchor="middle" font-size="13.8" letter-spacing="-0.28"><tspan>P (s s</tspan><tspan dy="-6.5" font-size="10.6">-2</tspan><tspan dy="6.5">​</tspan><tspan>)</tspan></text>
<circle cx="6.5" cy="412.4" r="1.0"/>
<circle cx="6.5" cy="563.9" r="1.0"/><circle cx="6.5" cy="566.8" r="1.0"/>
<line x1="81.9" x2="106.6" y1="161.2" y2="161.2" stroke="#ff0000" stroke-width="1.6"/>
<text x="114.7" y="165.8" font-size="14.3">P</text>
<text x="122.9" y="170.3" font-size="12.2">0</text>
<text x="171.5" y="165.8" text-anchor="end" font-size="14.3">= 0.3s,</text>
<text x="174.85" y="165.8" font-size="14.3">M</text>
<text x="187.5" y="170.4" font-size="10.8">d</text>
<text x="193.4" y="165.8" font-size="14.3">=3.0 x 10</text>
<text x="248.5" y="158.7" font-size="12">-7</text>
<text x="258.8" y="165.8" font-size="14.3">M</text>
<circle cx="275.7" cy="167.2" r="3.75" fill="none" stroke="#222" stroke-width="0.6"/><rect x="275.6" y="166.8" width="1.3" height="0.8"/>
<line x1="81.9" x2="106.6" y1="174.2" y2="174.2" stroke="#00ff00" stroke-width="1.6" stroke-dasharray="7.9 3.95"/>
<text x="114.7" y="179" font-size="14.3">P</text>
<text x="122.9" y="183.5" font-size="12.2">0</text>
<text x="171.5" y="179" text-anchor="end" font-size="14.3">= 0.1s,</text>
<text x="174.85" y="179" font-size="14.3">M</text>
<text x="187.5" y="183.6" font-size="10.8">d</text>
<text x="193.4" y="179" font-size="14.3">=7.3 x 10</text>
<text x="248.5" y="171.9" font-size="12">-7</text>
<text x="258.8" y="179" font-size="14.3">M</text>
<circle cx="275.7" cy="180.2" r="3.75" fill="none" stroke="#222" stroke-width="0.6"/><rect x="275.6" y="179.8" width="1.3" height="0.8"/>
<line x1="81.9" x2="106.6" y1="187.35" y2="187.35" stroke="#0000ff" stroke-width="1.6" stroke-dasharray="11.9 3.9 2.6 3.3"/>
<text x="114.7" y="192.6" font-size="14.3">P</text>
<text x="122.9" y="197.1" font-size="12.2">0</text>
<text x="171.5" y="192.6" text-anchor="end" font-size="14.3">=0.05s,</text>
<text x="174.85" y="192.6" font-size="14.3">M</text>
<text x="187.5" y="197.2" font-size="10.8">d</text>
<text x="193.4" y="192.6" font-size="14.3">=8.5 x 10</text>
<text x="248.5" y="185.5" font-size="12">-7</text>
<text x="258.8" y="192.6" font-size="14.3">M</text>
<circle cx="275.7" cy="193.3" r="3.75" fill="none" stroke="#222" stroke-width="0.6"/><rect x="275.6" y="192.9" width="1.3" height="0.8"/>
</svg>
</body></html>
